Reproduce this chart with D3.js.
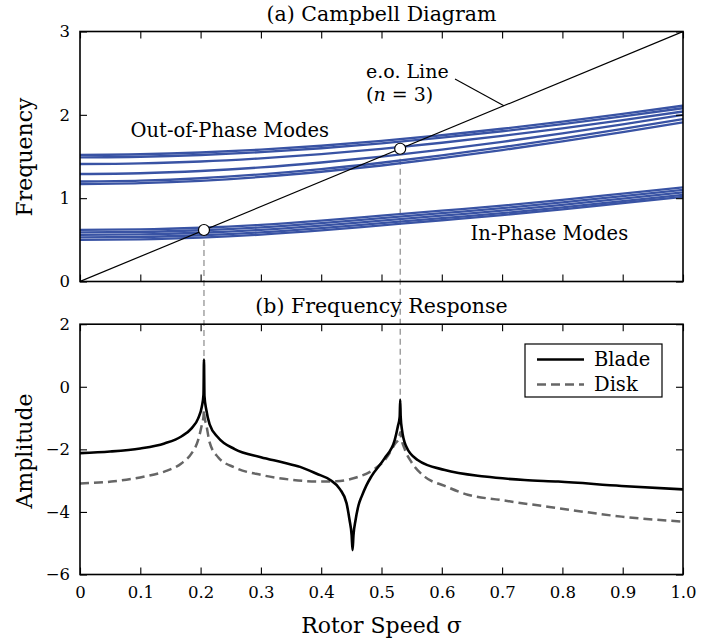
<!DOCTYPE html>
<html><head><meta charset="utf-8">
<script src="https://cdn.jsdelivr.net/npm/d3@7"></script>
<style>
html,body{margin:0;padding:0;background:#fff;}
svg{display:block;}
text{font-family:"DejaVu Serif",serif;fill:#000;}
</style>
</head><body><svg id="chart" width="725" height="642"></svg>
<script>
// ---------- data ----------
const sigmaGrid = [0, 0.1, 0.2, 0.3, 0.4, 0.5, 0.6, 0.7, 0.8, 0.9, 1.0];
// out-of-phase mode frequencies
const oop1 = [1.520, 1.527, 1.548, 1.582, 1.629, 1.687, 1.755, 1.833, 1.919, 2.011, 2.110];
const oop2 = [1.490, 1.497, 1.518, 1.552, 1.599, 1.657, 1.726, 1.803, 1.889, 1.981, 2.080];
const oop3 = [1.410, 1.418, 1.440, 1.478, 1.528, 1.591, 1.665, 1.747, 1.838, 1.936, 2.040];
const oop4 = [1.290, 1.299, 1.326, 1.369, 1.428, 1.499, 1.583, 1.676, 1.777, 1.886, 2.000];
const oop5 = [1.200, 1.210, 1.239, 1.286, 1.348, 1.425, 1.513, 1.612, 1.718, 1.831, 1.950];
const oop6 = [1.170, 1.180, 1.208, 1.255, 1.317, 1.392, 1.480, 1.577, 1.682, 1.793, 1.910];
// in-phase mode frequencies
const ip1 = [0.620, 0.625, 0.645, 0.680, 0.730, 0.790, 0.850, 0.910, 0.980, 1.055, 1.130];
const ip2 = [0.590, 0.595, 0.615, 0.650, 0.700, 0.760, 0.820, 0.880, 0.950, 1.025, 1.100];
const ip3 = [0.560, 0.565, 0.585, 0.620, 0.670, 0.730, 0.790, 0.850, 0.920, 0.995, 1.070];
const ip4 = [0.530, 0.535, 0.555, 0.590, 0.640, 0.700, 0.760, 0.820, 0.890, 0.965, 1.040];
const ip5 = [0.500, 0.506, 0.527, 0.563, 0.613, 0.674, 0.735, 0.797, 0.866, 0.942, 1.015];
// engine-order line (n = 3)
const eoSigma = [0, 1];
const eoFreq = [0, 3];
// crossing points
const crossSigma = [0.2056, 0.531];
const crossFreq = [0.618, 1.593];
// frequency response
const bladeSigma = [0, 0.05, 0.10, 0.14, 0.168, 0.185, 0.196, 0.202, 0.2048, 0.2056, 0.2064, 0.2095, 0.215, 0.229, 0.2565, 0.30, 0.337, 0.365, 0.3925, 0.415, 0.431, 0.442, 0.447, 0.4505, 0.452, 0.4535, 0.457, 0.462, 0.467, 0.475, 0.483, 0.505, 0.522, 0.527, 0.5302, 0.531, 0.5318, 0.534, 0.541, 0.56, 0.605, 0.671, 0.737, 0.793, 0.898, 1.0];
const bladeAmp = [-2.12, -2.07, -1.97, -1.81, -1.59, -1.33, -1.01, -0.64, -0.25, 0.87, -0.30, -0.74, -1.20, -1.62, -1.99, -2.25, -2.42, -2.56, -2.78, -2.98, -3.27, -3.72, -4.26, -4.75, -5.22, -4.75, -4.26, -3.78, -3.51, -3.15, -2.87, -2.29, -1.70, -1.28, -0.95, -0.42, -0.95, -1.38, -1.91, -2.34, -2.66, -2.87, -2.98, -3.03, -3.17, -3.28];
const diskSigma = [0, 0.052, 0.107, 0.14, 0.168, 0.185, 0.196, 0.202, 0.2048, 0.2056, 0.2064, 0.2095, 0.215, 0.229, 0.2565, 0.301, 0.35, 0.395, 0.425, 0.458, 0.486, 0.508, 0.523, 0.5295, 0.531, 0.5325, 0.539, 0.55, 0.572, 0.605, 0.643, 0.698, 0.793, 0.898, 1.0];
const diskAmp = [-3.09, -3.03, -2.87, -2.71, -2.45, -2.13, -1.70, -1.22, -0.95, -0.75, -0.95, -1.22, -1.78, -2.25, -2.58, -2.82, -2.97, -3.03, -3.02, -2.90, -2.66, -2.28, -1.81, -1.62, -1.45, -1.62, -2.02, -2.42, -2.88, -3.17, -3.45, -3.62, -3.88, -4.15, -4.31];
// ticks
const xTicks = [0, 0.1, 0.2, 0.3, 0.4, 0.5, 0.6, 0.7, 0.8, 0.9, 1.0];
const xTickLabels = ["0", "0.1", "0.2", "0.3", "0.4", "0.5", "0.6", "0.7", "0.8", "0.9", "1.0"];
const freqTicks = [0, 1, 2, 3];
const ampTicks = [2, 0, -2, -4, -6];
const seriesNames = ["Blade", "Disk"];

// ---------- layout ----------
const FONT = '"DejaVu Serif", serif';
const svg = d3.select("#chart");
const X0 = 80, X1 = 683;
const topY = [281.5, 31.5];
const botY = [574.5, 324.2];
const blue = "#3953a4";
const tickLen = 7;

const x = d3.scaleLinear().domain([0, 1]).range([X0, X1]);
const yF = d3.scaleLinear().domain([0, 3]).range(topY);
const yA = d3.scaleLinear().domain([-6, 2]).range(botY);

const defs = svg.append("defs");
defs.append("clipPath").attr("id", "clipTop").append("rect")
  .attr("x", X0).attr("y", topY[1]).attr("width", X1 - X0).attr("height", topY[0] - topY[1]);
defs.append("clipPath").attr("id", "clipBot").append("rect")
  .attr("x", X0).attr("y", botY[1]).attr("width", X1 - X0).attr("height", botY[0] - botY[1]);

function drawAxes(yScale, yTicks, yr, showX) {
  const g = svg.append("g");
  g.append("g").attr("transform", `translate(0,${yr[0]})`)
    .call(d3.axisBottom(x).tickValues(xTicks).tickSize(-tickLen).tickSizeOuter(0).tickPadding(12)
      .tickFormat((d, i) => showX ? xTickLabels[i] : ""));
  g.append("g").attr("transform", `translate(0,${yr[1]})`)
    .call(d3.axisTop(x).tickValues(xTicks).tickSize(-tickLen).tickSizeOuter(0).tickFormat(""));
  g.append("g").attr("transform", `translate(${X0},0)`)
    .call(d3.axisLeft(yScale).tickValues(yTicks).tickSize(-tickLen).tickSizeOuter(0).tickPadding(10)
      .tickFormat(d => d < 0 ? "\u2212" + Math.abs(d) : String(d)));
  g.append("g").attr("transform", `translate(${X1},0)`)
    .call(d3.axisRight(yScale).tickValues(yTicks).tickSize(-tickLen).tickSizeOuter(0).tickFormat(""));
  g.selectAll(".domain").remove();
  g.attr("font-family", FONT);
  g.selectAll(".tick line").attr("stroke", "#000").attr("stroke-width", 1.1);
  g.selectAll(".tick text").style("font-family", FONT).style("font-size", "16.5px").attr("fill", "#000");
  g.append("rect").attr("x", X0).attr("y", yr[1]).attr("width", X1 - X0).attr("height", yr[0] - yr[1])
    .attr("fill", "none").attr("stroke", "#000").attr("stroke-width", 1.6);
}

// ---------- guide dashed lines ----------
const bladePeakAmp = crossSigma.map(s => {
  let best = -Infinity;
  bladeSigma.forEach((v, i) => { if (Math.abs(v - s) < 0.002) best = Math.max(best, bladeAmp[i]); });
  return best;
});
crossSigma.forEach((s, i) => {
  svg.append("line").attr("x1", x(s)).attr("x2", x(s))
    .attr("y1", yF(crossFreq[i])).attr("y2", yA(bladePeakAmp[i]))
    .attr("stroke", "#808080").attr("stroke-width", 1.1).attr("stroke-dasharray", "6,4");
});

// ---------- top panel ----------
const topPanel = svg.append("g").attr("clip-path", "url(#clipTop)");
const lineF = d3.line().x((d, i) => x(sigmaGrid[i])).y(d => yF(d)).curve(d3.curveMonotoneX);
const allModes = [oop1, oop2, oop3, oop4, oop5, oop6, ip1, ip2, ip3, ip4, ip5];
allModes.forEach(m => {
  topPanel.append("path").attr("d", lineF(m)).attr("fill", "none").attr("stroke", blue).attr("stroke-width", 2.3);
});
topPanel.append("path")
  .attr("d", d3.line().x((d, i) => x(eoSigma[i])).y(d => yF(d))(eoFreq))
  .attr("fill", "none").attr("stroke", "#000").attr("stroke-width", 1.2);

drawAxes(yF, freqTicks, topY, false);

crossSigma.forEach((s, i) => {
  svg.append("circle").attr("cx", x(s)).attr("cy", yF(crossFreq[i])).attr("r", 5.5)
    .attr("fill", "#fff").attr("stroke", "#000").attr("stroke-width", 1.2);
});

// annotations
svg.append("text").attr("x", 366).attr("y", 78).style("font-size", "19px").text("e.o. Line");
const nTxt = svg.append("text").attr("x", 366).attr("y", 101).style("font-size", "19px");
nTxt.append("tspan").text("(");
nTxt.append("tspan").style("font-style", "italic").text("n");
nTxt.append("tspan").text(" = 3)");
svg.append("line").attr("x1", 455).attr("y1", 79).attr("x2", x(0.703)).attr("y2", yF(2.109))
  .attr("stroke", "#000").attr("stroke-width", 1.1);
svg.append("text").attr("x", 130.5).attr("y", 136.5).style("font-size", "19.5px").text("Out-of-Phase Modes");
svg.append("text").attr("x", 470.5).attr("y", 240).style("font-size", "19.5px").text("In-Phase Modes");

// ---------- bottom panel ----------
const botPanel = svg.append("g").attr("clip-path", "url(#clipBot)");
const lineA = d3.line().curve(d3.curveMonotoneX);
botPanel.append("path")
  .attr("d", lineA(diskSigma.map((s, i) => [x(s), yA(diskAmp[i])])))
  .attr("fill", "none").attr("stroke", "#666").attr("stroke-width", 2.5).attr("stroke-dasharray", "9,5");
botPanel.append("path")
  .attr("d", lineA(bladeSigma.map((s, i) => [x(s), yA(bladeAmp[i])])))
  .attr("fill", "none").attr("stroke", "#000").attr("stroke-width", 2.6).attr("stroke-linejoin", "round");

drawAxes(yA, ampTicks, botY, true);

// legend
const lg = svg.append("g");
lg.append("rect").attr("x", 525).attr("y", 344).attr("width", 137).attr("height", 53)
  .attr("fill", "#fff").attr("stroke", "#000").attr("stroke-width", 1.2);
lg.append("line").attr("x1", 537).attr("x2", 584).attr("y1", 359.5).attr("y2", 359.5)
  .attr("stroke", "#000").attr("stroke-width", 2.6);
lg.append("line").attr("x1", 537).attr("x2", 584).attr("y1", 384.5).attr("y2", 384.5)
  .attr("stroke", "#666").attr("stroke-width", 2.5).attr("stroke-dasharray", "9,5");
lg.append("text").attr("x", 594).attr("y", 366).style("font-size", "19.5px").text(seriesNames[0]);
lg.append("text").attr("x", 594).attr("y", 391).style("font-size", "19.5px").text(seriesNames[1]);

// titles & axis labels
svg.append("text").attr("x", 381.5).attr("y", 21).attr("text-anchor", "middle").style("font-size", "20.5px").text("(a) Campbell Diagram");
svg.append("text").attr("x", 381.5).attr("y", 313).attr("text-anchor", "middle").style("font-size", "20.5px").text("(b) Frequency Response");
svg.append("text").attr("transform", "translate(32,157) rotate(-90)").attr("text-anchor", "middle").style("font-size", "22px").text("Frequency");
svg.append("text").attr("transform", "translate(32,451) rotate(-90)").attr("text-anchor", "middle").style("font-size", "22px").text("Amplitude");
svg.append("text").attr("x", 381.5).attr("y", 633).attr("text-anchor", "middle").style("font-size", "22px").text("Rotor Speed σ");
</script></body></html>
